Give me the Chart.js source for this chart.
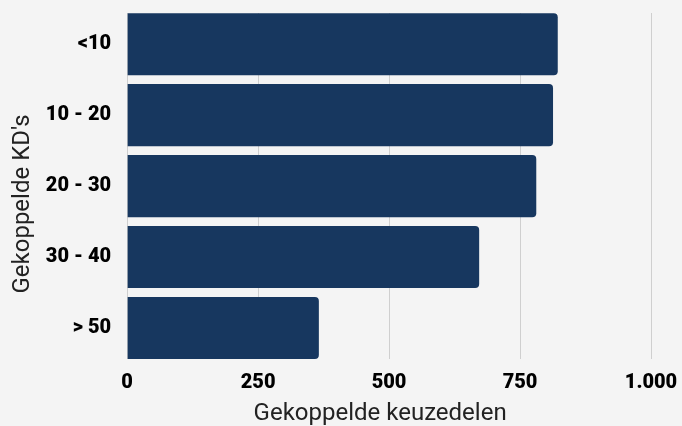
<!DOCTYPE html>
<html>
<head>
<meta charset="utf-8">
<script src="https://cdn.jsdelivr.net/npm/chart.js@4"></script>
<style>
html,body{margin:0;padding:0;background:#f4f4f4;}
#wrap{width:682px;height:426px;}
</style>
</head>
<body>
<div id="wrap"><canvas id="c" width="682" height="426"></canvas></div>
<script>
const categories = ["<10", "10 - 20", "20 - 30", "30 - 40", "> 50"];
const values = [822, 813, 781, 672, 366];
const xTicks = [0, 250, 500, 750, 1000];
const xTickLabels = ["0", "250", "500", "750", "1.000"];
const xTitle = "Gekoppelde keuzedelen";
const yTitle = "Gekoppelde KD's";

const points = values.map((v, i) => ({ x: v, y: i }));
const tickFont = { family: 'Roboto', weight: 900, size: 20 };
const nb = n => '\u00a0'.repeat(n);

new Chart(document.getElementById('c'), {
  type: 'bar',
  data: {
    datasets: [{
      data: points,
      backgroundColor: '#17375f',
      borderWidth: 0,
      borderRadius: { topRight: 4, bottomRight: 4, topLeft: 0, bottomLeft: 0 },
      borderSkipped: false,
      categoryPercentage: 1,
      barPercentage: 0.875
    }]
  },
  options: {
    indexAxis: 'y',
    responsive: false,
    animation: false,
    devicePixelRatio: 1,
    layout: { padding: { top: 13, right: 31, left: 5, bottom: 0 } },
    plugins: { legend: { display: false }, tooltip: { enabled: false } },
    scales: {
      x: {
        type: 'linear',
        min: 0, max: 1000,
        afterBuildTicks: s => { s.ticks = xTicks.map(v => ({ value: v })); },
        afterFit: s => { s.paddingLeft = 0; s.paddingRight = 0; s.height -= 12; },
        ticks: {
          callback: (v) => xTickLabels[xTicks.indexOf(v)],
          color: '#000',
          font: tickFont,
          padding: 12,
          maxRotation: 0
        },
        grid: { color: '#cfcfcf', drawTicks: false, lineWidth: 1 },
        border: { display: false },
        title: {
          display: true, text: xTitle + nb(3), color: '#222',
          font: { family: 'Roboto', size: 24, weight: 400 },
          padding: { top: 4, bottom: -2 }
        }
      },
      y: {
        type: 'linear',
        reverse: true,
        offset: false,
        min: -0.44, max: 4.44,
        afterBuildTicks: s => { s.ticks = categories.map((c, i) => ({ value: i })); },
        afterFit: s => { s.paddingTop = 0; s.paddingBottom = 0; s.width -= 16; },
        ticks: {
          callback: (v) => categories[v],
          color: '#000',
          font: tickFont,
          padding: 16
        },
        grid: { display: false, drawTicks: false },
        border: { display: false },
        title: {
          display: true, text: yTitle + nb(6), color: '#222',
          font: { family: 'Roboto', size: 24, weight: 400 },
          padding: { top: 4, bottom: 8 }
        }
      }
    }
  }
});
</script>
</body>
</html>
